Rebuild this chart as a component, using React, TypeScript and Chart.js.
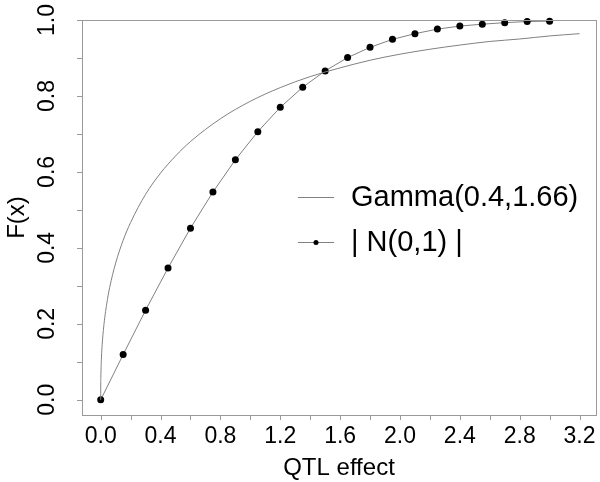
import React, { useEffect, useRef } from "react";
import { Chart, registerables } from "chart.js";

Chart.register(...registerables);

// Gamma(0.4, 1.66) CDF
const gammaX = [0, 0.0002, 0.001, 0.005, 0.01, 0.02, 0.04, 0.06, 0.1, 0.15, 0.2, 0.3, 0.4, 0.5, 0.6, 0.8, 1.0, 1.2, 1.4, 1.6, 1.8, 2.0, 2.2, 2.4, 2.6, 2.8, 3.0, 3.2];
const gammaY = [0, 0.031, 0.058, 0.11, 0.146, 0.192, 0.252, 0.296, 0.36, 0.42, 0.467, 0.541, 0.597, 0.642, 0.68, 0.74, 0.786, 0.822, 0.851, 0.874, 0.894, 0.91, 0.923, 0.934, 0.9435, 0.95, 0.958, 0.964];

// |N(0,1)| CDF, points
const normX = [0, 0.15, 0.3, 0.45, 0.6, 0.75, 0.9, 1.05, 1.2, 1.35, 1.5, 1.65, 1.8, 1.95, 2.1, 2.25, 2.4, 2.55, 2.7, 2.85, 3.0];
const normY = [0, 0.119, 0.236, 0.347, 0.452, 0.547, 0.632, 0.706, 0.77, 0.823, 0.866, 0.901, 0.928, 0.949, 0.964, 0.976, 0.984, 0.989, 0.993, 0.996, 0.997];

const xTicks = [0, 0.2, 0.4, 0.6, 0.8, 1.0, 1.2, 1.4, 1.6, 1.8, 2.0, 2.2, 2.4, 2.6, 2.8, 3.0, 3.2];
const xTickLabels = ["0.0", "0.4", "0.8", "1.2", "1.6", "2.0", "2.4", "2.8", "3.2"];
const yTicks = [0, 0.1, 0.2, 0.3, 0.4, 0.5, 0.6, 0.7, 0.8, 0.9, 1.0];
const yTickLabels = ["0.0", "0.2", "0.4", "0.6", "0.8", "1.0"];

const legendLabels = ["Gamma(0.4,1.66)", "| N(0,1) |"];
const xTitle = "QTL effect";
const yTitle = "F(x)";

const FONT = '"Liberation Sans", Arial, Helvetica, sans-serif';
const LINE = "#808080";
const AXIS = "#9a9a9a";

const decorPlugin = {
  id: "decor",
  afterDraw(chart: any) {
    const ctx = chart.ctx;
    const a = chart.chartArea;
    const xs = chart.scales.x;
    const ys = chart.scales.y;
    ctx.save();
    // box
    ctx.strokeStyle = AXIS;
    ctx.lineWidth = 1;
    ctx.strokeRect(Math.round(a.left) + 0.5, Math.round(a.top) + 0.5, Math.round(a.right - a.left), Math.round(a.bottom - a.top));
    // ticks
    ctx.beginPath();
    xTicks.forEach((v) => {
      const px = Math.round(xs.getPixelForValue(v)) + 0.5;
      ctx.moveTo(px, a.bottom);
      ctx.lineTo(px, a.bottom + 5);
    });
    yTicks.forEach((v) => {
      const py = Math.round(ys.getPixelForValue(v)) + 0.5;
      ctx.moveTo(a.left, py);
      ctx.lineTo(a.left - 5, py);
    });
    ctx.stroke();
    // tick labels
    ctx.fillStyle = "#000";
    ctx.font = `23px ${FONT}`;
    ctx.textAlign = "center";
    ctx.textBaseline = "middle";
    xTickLabels.forEach((t) => {
      const px = xs.getPixelForValue(parseFloat(t));
      ctx.fillText(t, px, a.bottom + 22);
    });
    yTickLabels.forEach((t) => {
      const py = ys.getPixelForValue(parseFloat(t));
      ctx.save();
      ctx.translate(a.left - 34, py);
      ctx.rotate(-Math.PI / 2);
      ctx.fillText(t, 0, 0);
      ctx.restore();
    });
    // titles
    ctx.font = `24px ${FONT}`;
    ctx.fillText(xTitle, (a.left + a.right) / 2, a.bottom + 53);
    ctx.save();
    ctx.translate(17, (a.top + a.bottom) / 2);
    ctx.rotate(-Math.PI / 2);
    ctx.fillText(yTitle, 0, 0);
    ctx.restore();
    // legend
    const lx0 = 298, lx1 = 334, tx = 351;
    const ly = [197, 242];
    ctx.strokeStyle = LINE;
    ctx.beginPath();
    ly.forEach((y) => {
      ctx.moveTo(lx0, y + 0.5);
      ctx.lineTo(lx1, y + 0.5);
    });
    ctx.stroke();
    ctx.fillStyle = "#000";
    ctx.beginPath();
    ctx.arc((lx0 + lx1) / 2, ly[1] + 0.5, 2.5, 0, Math.PI * 2);
    ctx.fill();
    ctx.font = `29px ${FONT}`;
    ctx.textAlign = "left";
    legendLabels.forEach((t, i) => {
      ctx.fillText(t, tx, ly[i] + 1);
    });
    ctx.restore();
  },
};

export default function App() {
  const ref = useRef<HTMLCanvasElement>(null);
  useEffect(() => {
    if (!ref.current) return;
    const chart = new Chart(ref.current, {
      type: "scatter",
      data: {
        datasets: [
          {
            label: legendLabels[0],
            data: gammaX.map((x, i) => ({ x, y: gammaY[i] })),
            showLine: true,
            borderColor: LINE,
            borderWidth: 1,
            pointRadius: 0,
            cubicInterpolationMode: "monotone",
            clip: false,
          } as any,
          {
            label: legendLabels[1],
            data: normX.map((x, i) => ({ x, y: normY[i] })),
            showLine: true,
            borderColor: LINE,
            borderWidth: 1,
            pointRadius: 3.5,
            pointBackgroundColor: "#000",
            pointBorderColor: "#000",
            pointBorderWidth: 0,
            clip: false,
          } as any,
        ],
      },
      options: {
        animation: false,
        responsive: false,
        devicePixelRatio: 1,
        layout: { padding: { left: 82, top: 20, right: 3, bottom: 67 } },
        scales: {
          x: { type: "linear", min: -0.125, max: 3.31, display: false },
          y: { type: "linear", min: -0.04, max: 1.0, display: false },
        },
        plugins: { legend: { display: false }, tooltip: { enabled: false } },
      },
      plugins: [decorPlugin],
    });
    return () => chart.destroy();
  }, []);
  return (
    <div style={{ position: "absolute", left: 0, top: 0, width: 600, height: 482, background: "#fff" }}>
      <canvas ref={ref} width={600} height={482} />
    </div>
  );
}
